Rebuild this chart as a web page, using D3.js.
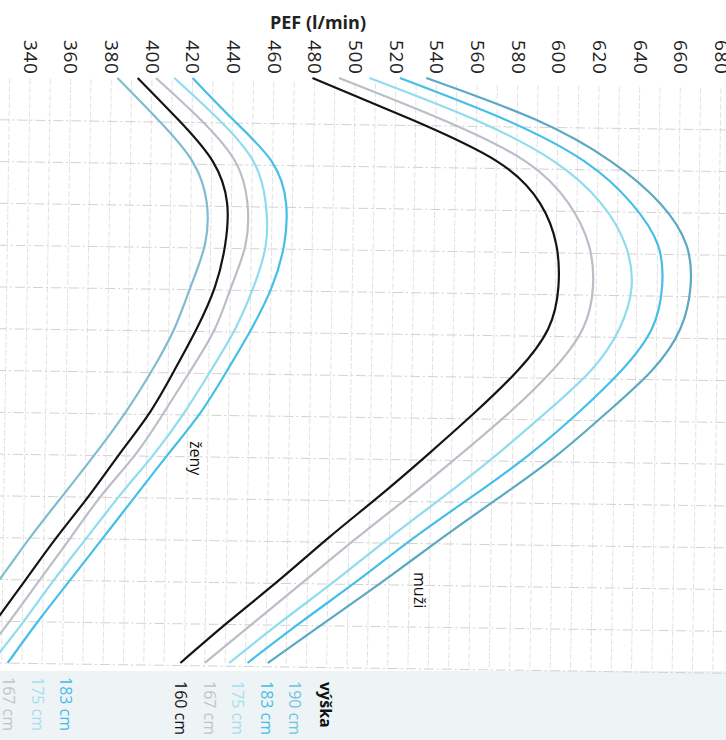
<!DOCTYPE html>
<html><head><meta charset="utf-8">
<script src="https://cdn.jsdelivr.net/npm/d3@7"></script>
<style>body{margin:0;background:#fff} svg{display:block;font-family:"Open Sans",sans-serif}</style>
</head><body><svg id="c" width="726" height="740"></svg>
<script>
// ---- data ----
const ages = [15,20,25,30,35,40,45,50,55,60,65,70,75,80,85];
const pefTicks = [340,360,380,400,420,440,460,480,500,520,540,560,580,600,620,640,660,680];
const gridPef = d3.range(330, 700, 10);
const gridAges = [20,25,30,35,40,45,50,55,60,65,70,75,80,85];

const womenHeights = [152,160,167,175,183];
const women152 = [383,403,420,427,426,419,411,400,387,372,356,340,325,309,293];
const women160 = [393,413,430,437,436,431,422,411,399,384,369,353,338,323,308];
const women167 = [402,424,441,447,446,439,431,419,406,392,375,360,345,330,314];
const women175 = [411,433,450,456,456,450,441,429,416,401,384,368,352,337,321];
const women183 = [420,440,459,466,465,459,449,437,424,408,392,376,360,344,329];

const menHeights = [160,167,175,183,190];
const men160 = [479,528,570,591,599,600,595,580,559,536,512,487,463,438,414];
const men167 = [492,543,584,605,615,617,612,597,576,552,527,501,476,451,426];
const men175 = [507,559,598,621,633,636,630,616,594,570,544,517,491,464,438];
const men183 = [522,574,613,636,649,651,646,631,610,586,558,529,502,474,447];
const men190 = [535,589,626,650,663,665,660,646,624,600,572,543,515,486,457];

const womenSeries = [women152, women160, women167, women175, women183];
const menSeries = [men160, men167, men175, men183, men190];

// ---- styles ----
const colorByHeight = {152:"#80bcd0",160:"#141414",167:"#b9bec7",175:"#8fdcef",183:"#45bfe7",190:"#5ba9c2"};
const labelColor = {160:"#141414",167:"#c2c4c8",175:"#a3e0ee",183:"#45bde6",190:"#72c3e0"};

const svg = d3.select("#c");
svg.append("rect").attr("width",726).attr("height",740).attr("fill","#fff");
svg.append("rect").attr("x",0).attr("y",671).attr("width",726).attr("height",69).attr("fill","#eef3f6");

const x = d3.scaleLinear().domain([340,680]).range([30,721]);
const y = d3.scaleLinear().domain([15,85]).range([78,663]);

// grid (the scan is slightly rotated)
const grid = svg.append("g").attr("transform","rotate(0.8,0,78)");
grid.selectAll("line.v").data(gridPef).join("line").attr("class","v")
  .attr("x1",d=>x(d)).attr("x2",d=>x(d)).attr("y1",y(15)).attr("y2",y(85))
  .attr("stroke","#e3e3e3").attr("stroke-width",1).attr("stroke-dasharray","6 2");
grid.selectAll("line.h").data(gridAges).join("line").attr("class","h")
  .attr("x1",0).attr("x2",740).attr("y1",d=>y(d)).attr("y2",d=>y(d))
  .attr("stroke","#d2d2d2").attr("stroke-width",1).attr("stroke-dasharray","10 3 2 3");

// axis on top
const axis = svg.append("g").attr("transform","translate(0,40)")
  .call(d3.axisTop(x).tickValues(pefTicks).tickSize(0).tickFormat(d3.format("d")));
axis.select(".domain").remove();
axis.selectAll("text")
  .attr("x",0).attr("y",0).attr("dy","0.35em")
  .attr("transform","rotate(90)")
  .style("text-anchor","start")
  .style("font-family","'Open Sans',sans-serif")
  .style("font-size","19px").style("letter-spacing","0.6px").attr("fill","#222");

svg.append("text").attr("x",318).attr("y",29).attr("text-anchor","middle")
  .style("font-size","18px").style("font-weight","bold").attr("fill","#222").text("PEF (l/min)");

// curves
const line = d3.line().x(d=>x(d[1])).y(d=>y(d[0])).curve(d3.curveNatural);
svg.append("clipPath").attr("id","clip").append("rect").attr("x",0).attr("y",70).attr("width",726).attr("height",600);
const cg = svg.append("g").attr("clip-path","url(#clip)");
womenSeries.forEach((s,i)=>{
  cg.append("path").attr("d", line(ages.map((a,j)=>[a,s[j]])))
    .attr("fill","none").attr("stroke",colorByHeight[womenHeights[i]]).attr("stroke-width",2.2);
});
menSeries.forEach((s,i)=>{
  cg.append("path").attr("d", line(ages.map((a,j)=>[a,s[j]])))
    .attr("fill","none").attr("stroke",colorByHeight[menHeights[i]]).attr("stroke-width",2.2);
});

// group labels
function vtext(tx,ty,txt,opts){
  const t = svg.append("text").attr("transform",`translate(${tx},${ty}) rotate(90)`)
    .attr("dy","0.35em").style("text-anchor","start").style("font-size",(opts.size||16)+"px")
    .attr("fill",opts.color||"#111").text(txt);
  if(opts.bold) t.style("font-weight","bold");
  return t;
}
vtext(196,441,"ženy",{size:16});
vtext(420,572,"muži",{size:16});

// legend (výška)
vtext(326,682,"výška",{size:16,bold:true});
menHeights.forEach((h,i)=>{
  vtext(181 + i*28.5, 681, h+" cm", {size:16,color:labelColor[h]});
});
const womenVisible = womenHeights.slice(2);
womenVisible.forEach((h,i)=>{
  vtext(9 + i*28.5, 677, h+" cm", {size:16,color:labelColor[h]});
});
</script></body></html>
